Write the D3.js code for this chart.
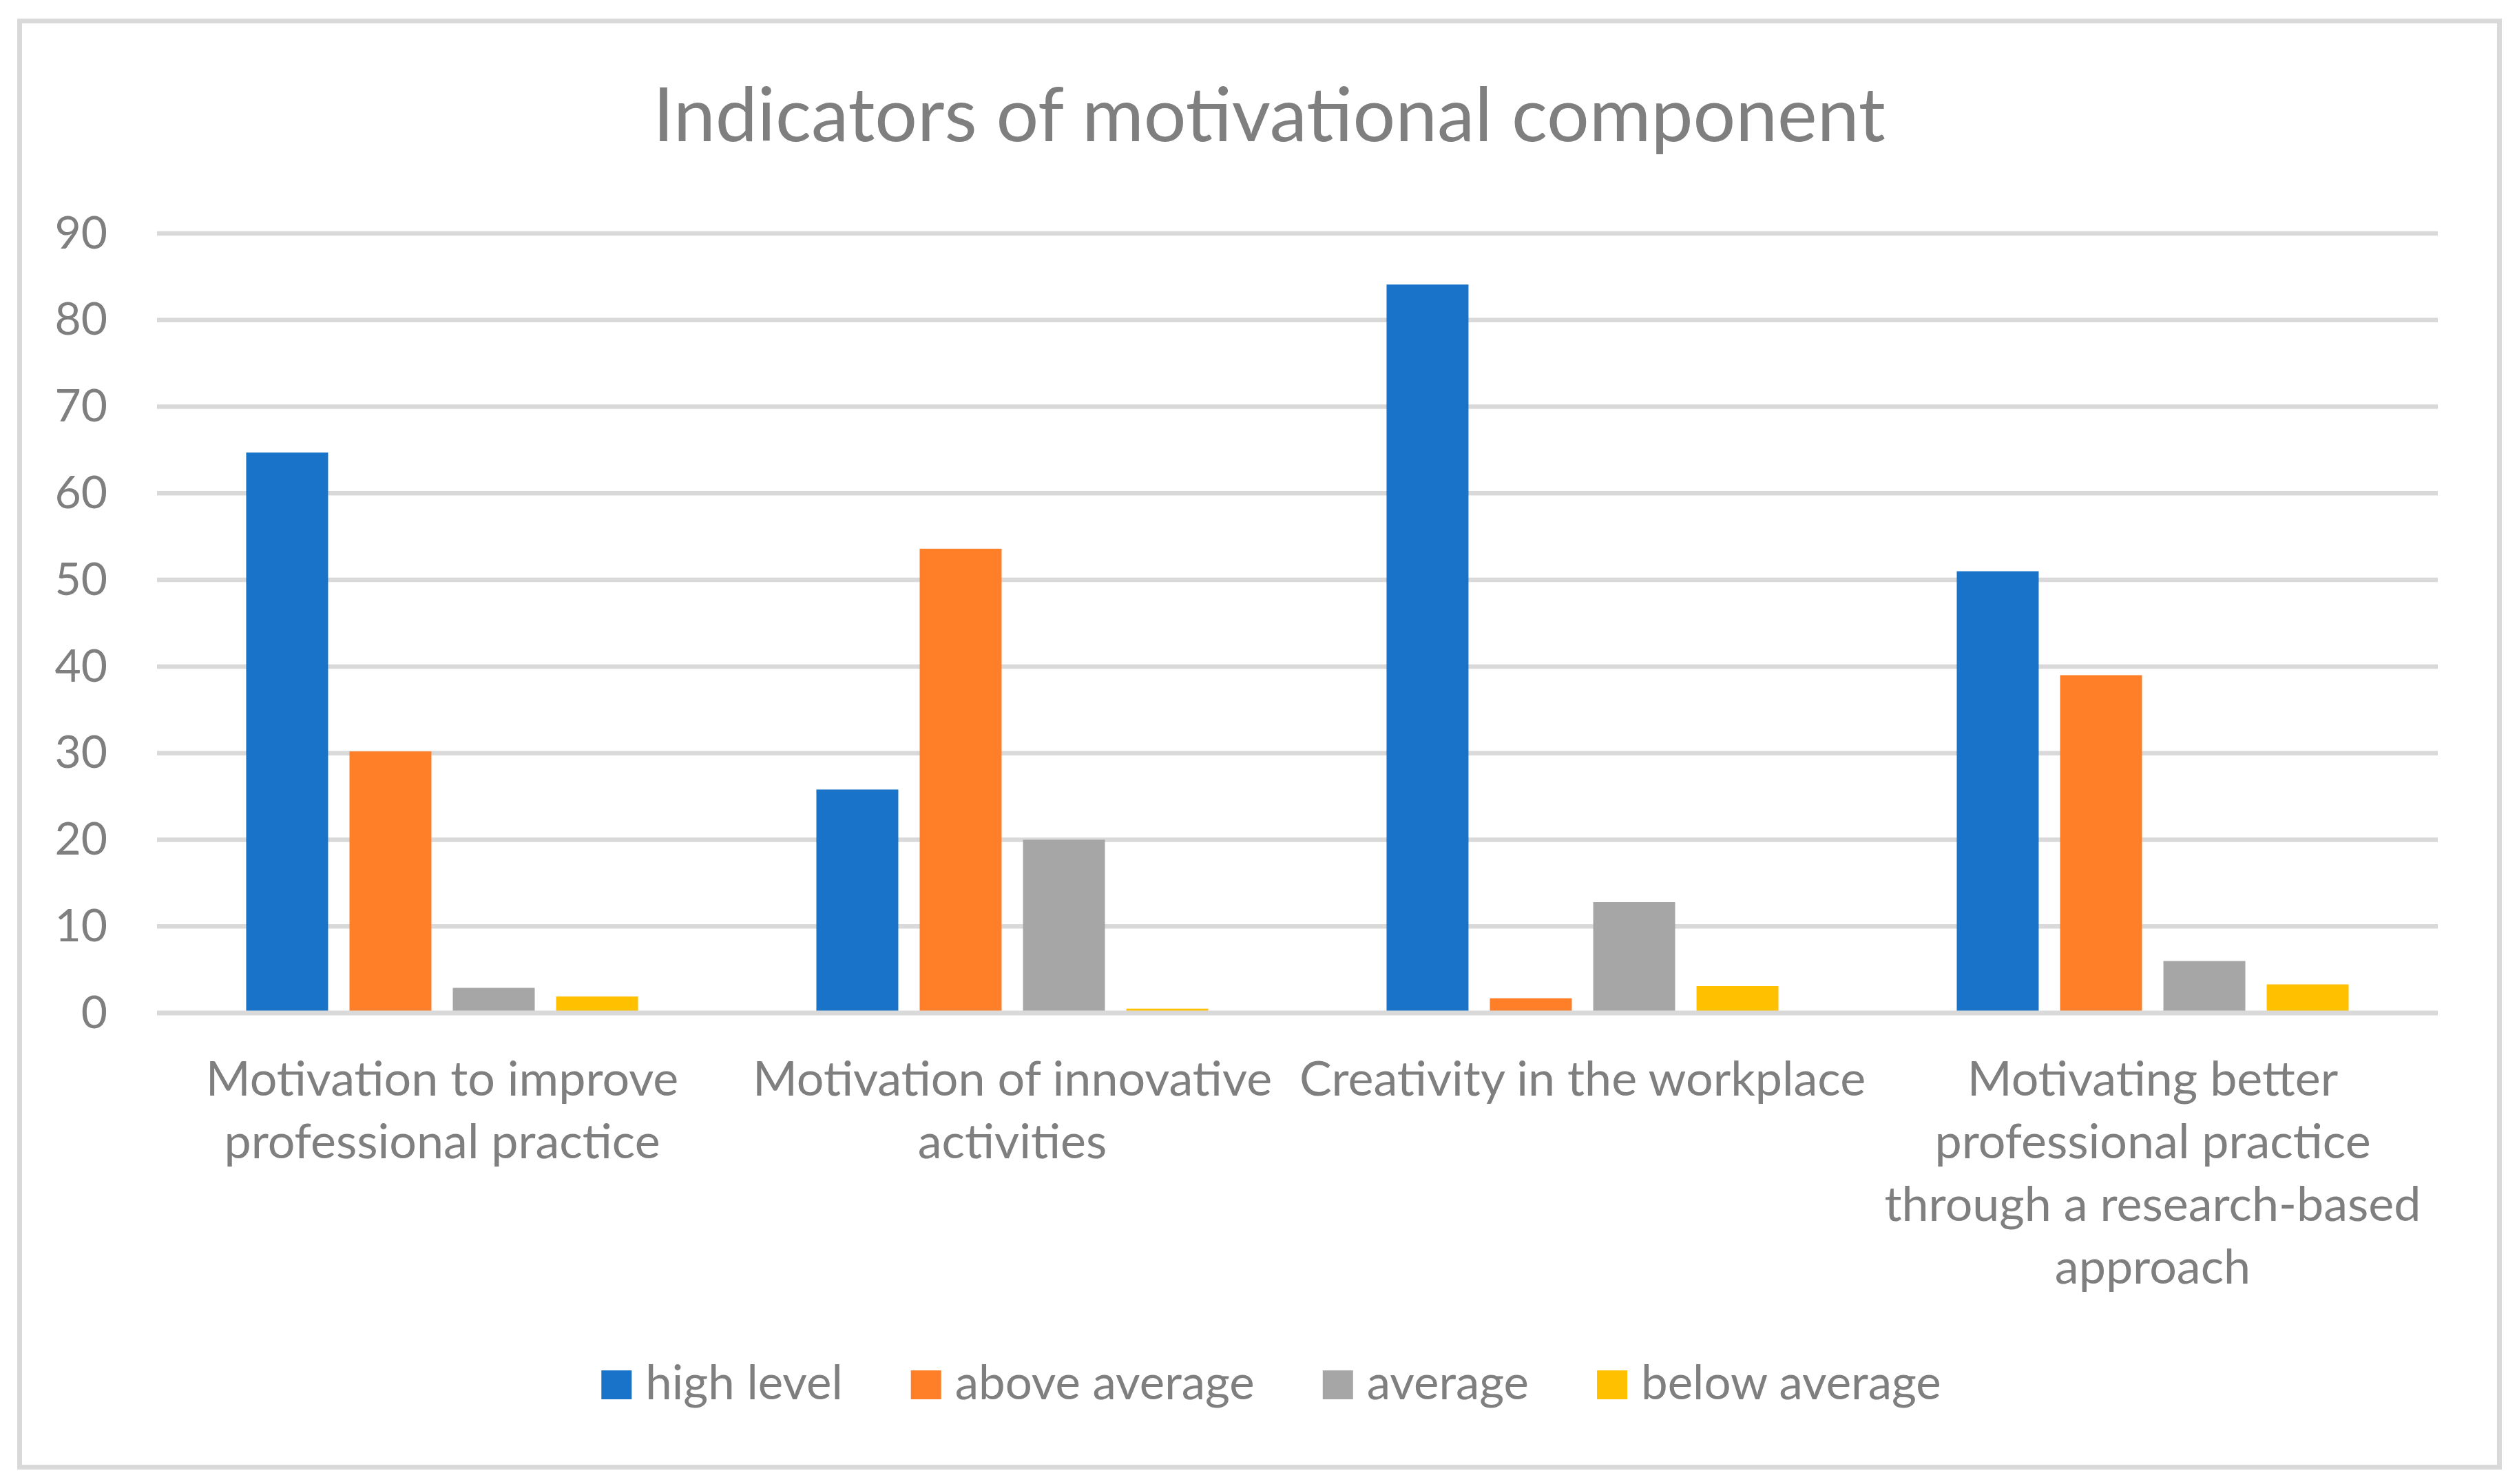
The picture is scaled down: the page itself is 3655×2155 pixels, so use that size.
<!doctype html>
<html>
  <head>
    <meta charset="utf-8">
    <script src="https://cdn.jsdelivr.net/npm/d3@7"></script>
    <style>
      body { margin: 0; background: #fff; }
      text { font-family: Lato, "Open Sans", sans-serif; fill: #7f7f7f; }
    </style>
  </head>
  <body>
    <svg width="3655" height="2155"></svg>

  <script>
    let width = 3655,
        height = 2155

    // data
    let categories = [
      "Motivation to improve professional practice",
      "Motivation of innovative activities",
      "Creativity in the workplace",
      "Motivating better professional practice through a research-based approach"
    ]
    let categoryLines = [
      ["Motivation to improve", "professional practice"],
      ["Motivation of innovative", "activities"],
      ["Creativity in the workplace"],
      ["Motivating better", "professional practice", "through a research-based", "approach"]
    ]
    let seriesNames = ["high level", "above average", "average", "below average"]
    let highLevel    = [64.7, 25.8, 84.1, 51.0]
    let aboveAverage = [30.2, 53.6, 1.7, 39.0]
    let average      = [2.9, 20.0, 12.8, 6.0]
    let belowAverage = [1.9, 0.5, 3.1, 3.3]
    let yTicks = [0, 10, 20, 30, 40, 50, 60, 70, 80, 90]
    let title = "Indicators of motivational component"

    let colors = ["#1873c9", "#fe7f28", "#a6a6a6", "#ffc000"]
    let seriesValues = [highLevel, aboveAverage, average, belowAverage]

    let svg = d3.select("svg")

    // outer frame
    svg.append("rect")
      .attr("x", 28.5).attr("y", 30.5)
      .attr("width", 3601).attr("height", 2100)
      .attr("fill", "#fff")
      .attr("stroke", "#d9d9d9")
      .attr("stroke-width", 7)

    let plot = { left: 228, right: 3540, top: 339, bottom: 1471 }

    let x0 = d3.scaleBand()
               .domain(categories)
               .range([plot.left, plot.right])

    let x1 = d3.scaleBand()
               .domain(seriesNames)
               .range([0, x0.bandwidth()])
               .paddingInner(0.207)
               .paddingOuter(0.863)

    let y = d3.scaleLinear()
              .domain([0, 90])
              .range([plot.bottom, plot.top])

    let color = d3.scaleOrdinal().domain(seriesNames).range(colors)

    // gridlines
    svg.append("g")
        .attr("class", "grid")
      .selectAll("line")
      .data(yTicks.filter(d => d > 0))
      .enter().append("line")
        .attr("x1", plot.left).attr("x2", plot.right)
        .attr("y1", d => y(d)).attr("y2", d => y(d))
        .attr("stroke", "#d9d9d9")
        .attr("stroke-width", 6.5)

    // y axis labels
    let yAxis = d3.axisLeft(y).tickValues(yTicks).tickSize(0).tickPadding(72)
    svg.append("g")
        .attr("transform", `translate(${plot.left},0)`)
        .call(yAxis)
        .call(g => g.select(".domain").remove())
        .selectAll("text")
          .attr("font-size", 66)
          .attr("font-family", "Lato, 'Open Sans', sans-serif")
          .attr("fill", "#7f7f7f")

    // bars
    let rows = categories.map((c, i) => ({
      cat: c,
      values: seriesNames.map((s, j) => ({ series: s, value: seriesValues[j][i] }))
    }))

    svg.append("g")
      .selectAll("g")
      .data(rows)
      .enter().append("g")
        .attr("transform", d => `translate(${x0(d.cat)},0)`)
      .selectAll("rect")
      .data(d => d.values)
      .enter().append("rect")
        .attr("x", d => x1(d.series))
        .attr("width", x1.bandwidth())
        .attr("y", d => y(d.value))
        .attr("height", d => y(0) - y(d.value))
        .attr("fill", d => color(d.series))

    // horizontal axis line
    svg.append("line")
      .attr("x1", plot.left).attr("x2", plot.right)
      .attr("y1", y(0)).attr("y2", y(0))
      .attr("stroke", "#d9d9d9")
      .attr("stroke-width", 7)

    // category labels
    let catLabels = svg.append("g")
      .selectAll("text")
      .data(categories)
      .enter().append("text")
        .attr("x", d => x0(d) + x0.bandwidth() / 2)
        .attr("y", 1591)
        .attr("text-anchor", "middle")
        .attr("font-size", 70)

    catLabels.selectAll("tspan")
      .data((d, i) => categoryLines[i])
      .enter().append("tspan")
        .attr("x", function() { return d3.select(this.parentNode).attr("x") })
        .attr("dy", (d, i) => i == 0 ? 0 : 91)
        .text(d => d)

    // title
    svg.append("text")
      .attr("x", 1843)
      .attr("y", 205)
      .attr("text-anchor", "middle")
      .attr("font-size", 109)
      .text(title)

    // legend
    let legend = svg.append("g")
    let lx = 0
    seriesNames.forEach((s, i) => {
      let item = legend.append("g").attr("transform", `translate(${lx},0)`)
      item.append("rect")
        .attr("x", 0).attr("y", -42)
        .attr("width", 44).attr("height", 42)
        .attr("fill", color(s))
      let t = item.append("text")
        .attr("x", 64).attr("y", 0)
        .attr("font-size", 69)
        .text(s)
      lx += 64 + t.node().getComputedTextLength() + 99
    })
    let legendWidth = lx - 99
    legend.attr("transform", `translate(${1846 - legendWidth / 2},2032)`)

  </script>
  </body>
</html>
